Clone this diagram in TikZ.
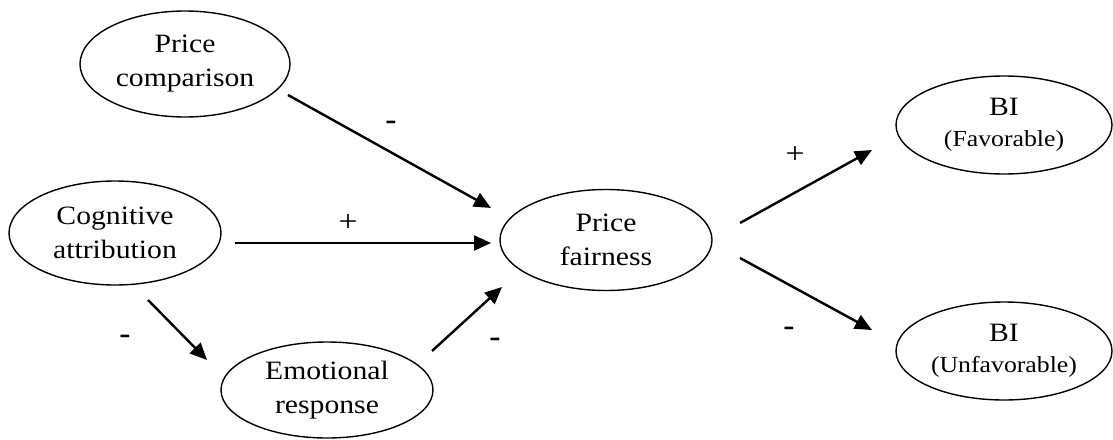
\documentclass[tikz,border=0pt]{standalone}
\usepackage{fontspec}
\setmainfont{Liberation Serif}[FakeStretch=1.12]
\usetikzlibrary{arrows.meta,calc,shapes.geometric}
\newcommand{\mainsz}{\fontsize{26.5}{34}\selectfont}
\newcommand{\parsz}{\fontsize{23}{30}\selectfont}
\begin{document}
\begin{tikzpicture}[x=1pt,y=-1pt,
  ell/.style={draw, ellipse, line width=1.4pt, inner sep=0pt, align=center, font=\mainsz},
  conn/.style={line width=2.4pt, -{Triangle[length=17pt,width=15pt]}},
  sign/.style={inner sep=0pt, font=\fontsize{30}{34}\selectfont}]
\useasboundingbox (0,0) rectangle (1113,439);
% nodes
\node[ell, minimum width=210pt, minimum height=106pt] (pc) at (185,64) {Price\\comparison};
\node[ell, minimum width=212pt, minimum height=104pt] (ca) at (115,233) {Cognitive\\attribution};
\node[ell, minimum width=212pt, minimum height=96pt] (er) at (327,390) {Emotional\\response};
\node[ell, minimum width=212pt, minimum height=101pt] (pf) at (606,240) {Price\\fairness};
\node[ell, minimum width=216pt, minimum height=98pt] (bif) at (1004,125) {BI\\[-3pt]{\parsz (Favorable)}};
\node[ell, minimum width=216pt, minimum height=98pt] (biu) at (1004,351) {BI\\[-3pt]{\parsz (Unfavorable)}};
% connector end points
\coordinate (pc-o) at ($(pc.center)+(103,31)$);
\coordinate (pf-i1) at ($(pf.center)+(-115,-32)$);
\coordinate (ca-o1) at ($(ca.center)+(120,10)$);
\coordinate (pf-i2) at ($(pf.center)+(-115,3)$);
\coordinate (ca-o2) at ($(ca.center)+(33,67)$);
\coordinate (er-i) at ($(er.center)+(-120,-30)$);
\coordinate (er-o) at ($(er.center)+(105,-39)$);
\coordinate (pf-i3) at ($(pf.center)+(-104,47)$);
\coordinate (pf-o1) at ($(pf.center)+(134,-17)$);
\coordinate (bif-i) at ($(bif.center)+(-132,25)$);
\coordinate (pf-o2) at ($(pf.center)+(134,18)$);
\coordinate (biu-i) at ($(biu.center)+(-132,-21)$);
% connectors
\draw[conn] (pc-o) -- (pf-i1);
\draw[conn] (ca-o1) -- (pf-i2);
\draw[conn] (ca-o2) -- (er-i);
\draw[conn] (er-o) -- (pf-i3);
\draw[conn] (pf-o1) -- (bif-i);
\draw[conn] (pf-o2) -- (biu-i);
% signs
\node[sign] (s1) at (391,125) {\bfseries -};
\node[sign] (s2) at (348,223) {+};
\node[sign] (s3) at (125,339) {\bfseries -};
\node[sign] (s4) at (495,342) {\bfseries -};
\node[sign] (s5) at (795,155) {+};
\node[sign] (s6) at (789,331) {\bfseries -};
\end{tikzpicture}
\end{document}
